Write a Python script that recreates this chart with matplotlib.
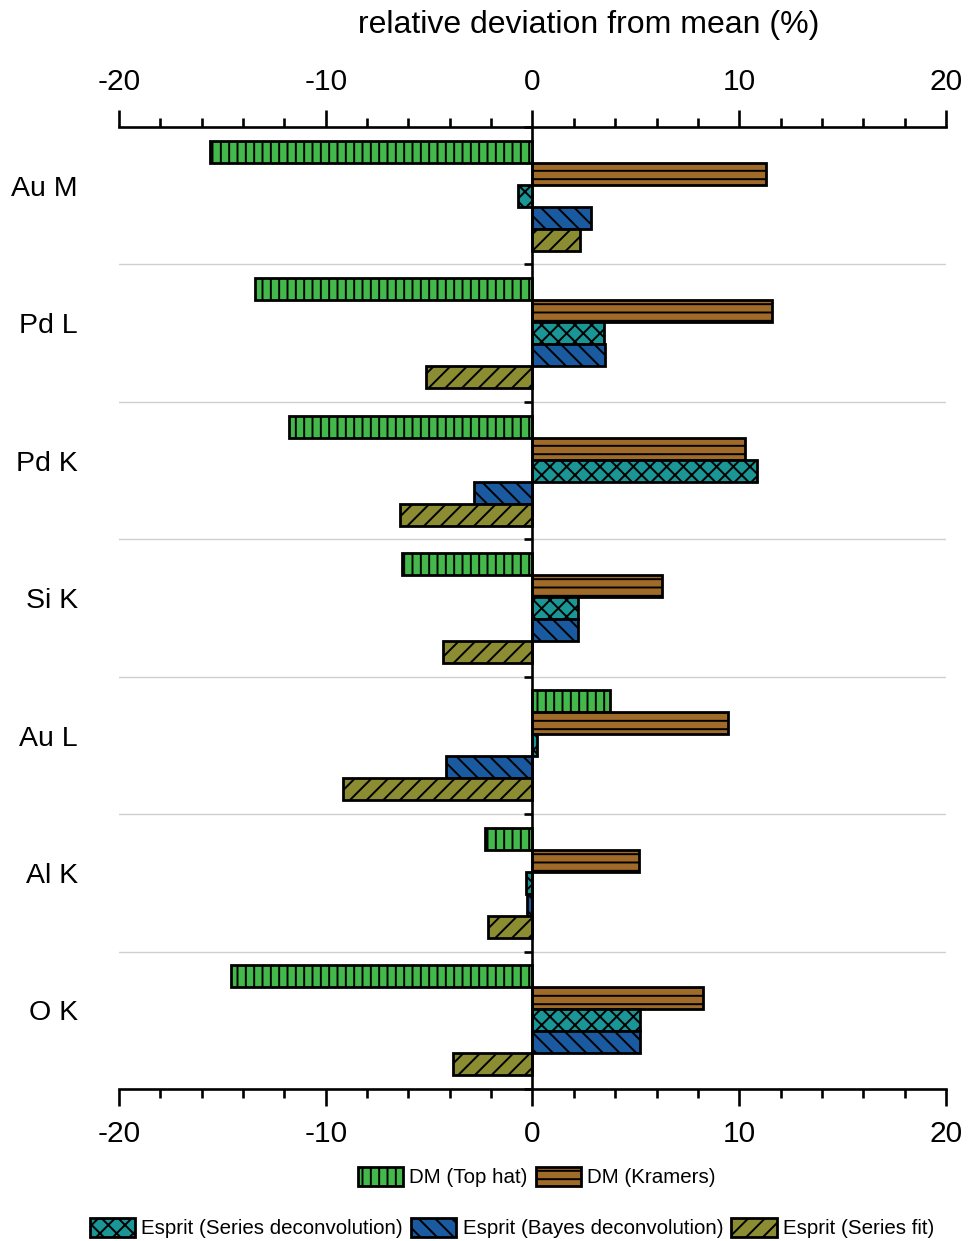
import numpy as np
import matplotlib.pyplot as plt
from matplotlib.ticker import MultipleLocator, FixedLocator, NullFormatter
import matplotlib.transforms as mtransforms

plt.rcParams['font.family'] = ['Liberation Sans', 'DejaVu Sans']
plt.rcParams['axes.unicode_minus'] = False
plt.rcParams['hatch.linewidth'] = 1.4

# relative deviation from mean (%) per line and method
categories = ['Au M', 'Pd L', 'Pd K', 'Si K', 'Au L', 'Al K', 'O K']
series_names = ['DM (Top hat)', 'DM (Kramers)', 'Esprit (Series deconvolution)',
                'Esprit (Bayes deconvolution)', 'Esprit (Series fit)']
dm_top_hat = [-15.6, -13.4, -11.8, -6.3, 3.75, -2.3, -14.6]
dm_kramers = [11.3, 11.6, 10.3, 6.25, 9.45, 5.15, 8.25]
esprit_series_deconv = [-0.7, 3.45, 10.85, 2.2, 0.22, -0.3, 5.2]
esprit_bayes_deconv = [2.85, 3.5, -2.85, 2.2, -4.2, -0.27, 5.2]
esprit_series_fit = [2.3, -5.15, -6.4, -4.35, -9.15, -2.15, -3.85]

series = [dm_top_hat, dm_kramers, esprit_series_deconv, esprit_bayes_deconv, esprit_series_fit]
colors = ['#44b94b', '#a06a28', '#1a9696', '#1a5aa0', '#8c8c32']
hatches = ['||', '--', 'xx', '\\\\', '//']

fig = plt.figure(figsize=(9.68, 12.41), dpi=100)
ax = fig.add_axes([0.1229, 0.1225, 0.8544, 0.7752])

y = np.arange(len(categories))
bar_h = 0.16
for j, vals in enumerate(series):
    ax.barh(y + (j - 2) * bar_h, vals, height=bar_h, color=colors[j],
            edgecolor='black', linewidth=2.0, hatch=hatches[j],
            label=series_names[j], zorder=3)

ax.set_xlim(-20, 20)
ax.set_ylim(len(categories) - 0.5, -0.5)

# x ticks on both top and bottom
ax.xaxis.set_major_locator(MultipleLocator(10))
ax.xaxis.set_minor_locator(MultipleLocator(2))
ax.tick_params(axis='x', which='both', top=True, bottom=True, labeltop=True,
               labelbottom=True, direction='out', width=1.9, labelsize=21.5)
ax.tick_params(axis='x', which='major', length=12, pad=10)
ax.tick_params(axis='x', which='minor', length=6.5)

# y axis drawn through zero, ticks at category boundaries
ax.spines['left'].set_position(('data', 0))
ax.spines['left'].set_linewidth(1.9)
ax.spines['left'].set_zorder(4)
ax.spines['right'].set_visible(False)
for s in ['top', 'bottom']:
    ax.spines[s].set_linewidth(1.9)
bounds = np.arange(len(categories) + 1) - 0.5
ax.yaxis.set_major_locator(FixedLocator(bounds))
ax.yaxis.set_major_formatter(NullFormatter())
ax.tick_params(axis='y', which='major', direction='out', length=6, width=1.9)
ax.yaxis.grid(True, color='#cfcfcf', linewidth=1.0, zorder=0)
ax.set_axisbelow(True)

trans = mtransforms.blended_transform_factory(fig.transFigure, ax.transData)
for i, c in enumerate(categories):
    ax.text(78 / 968, i - 0.05, c, transform=trans, ha='right', va='center', fontsize=20.5)

fig.text(589 / 968, 1 - 25 / 1241, 'relative deviation from mean (%)',
         ha='center', va='center', fontsize=23)

handles, labels = ax.get_legend_handles_labels()
leg_kw = dict(frameon=False, fontsize=14.8, handlelength=2.2, handleheight=1.1,
              handletextpad=0.3, columnspacing=0.4, borderaxespad=0)
leg1 = fig.legend(handles[:2], labels[:2], ncol=2, loc='center',
                  bbox_to_anchor=(537 / 968, 1 - 1177 / 1241), **leg_kw)
leg2 = fig.legend(handles[2:], labels[2:], ncol=3, loc='center',
                  bbox_to_anchor=(512 / 968, 1 - 1228 / 1241), **leg_kw)

fig.savefig('out.png', dpi=100)
